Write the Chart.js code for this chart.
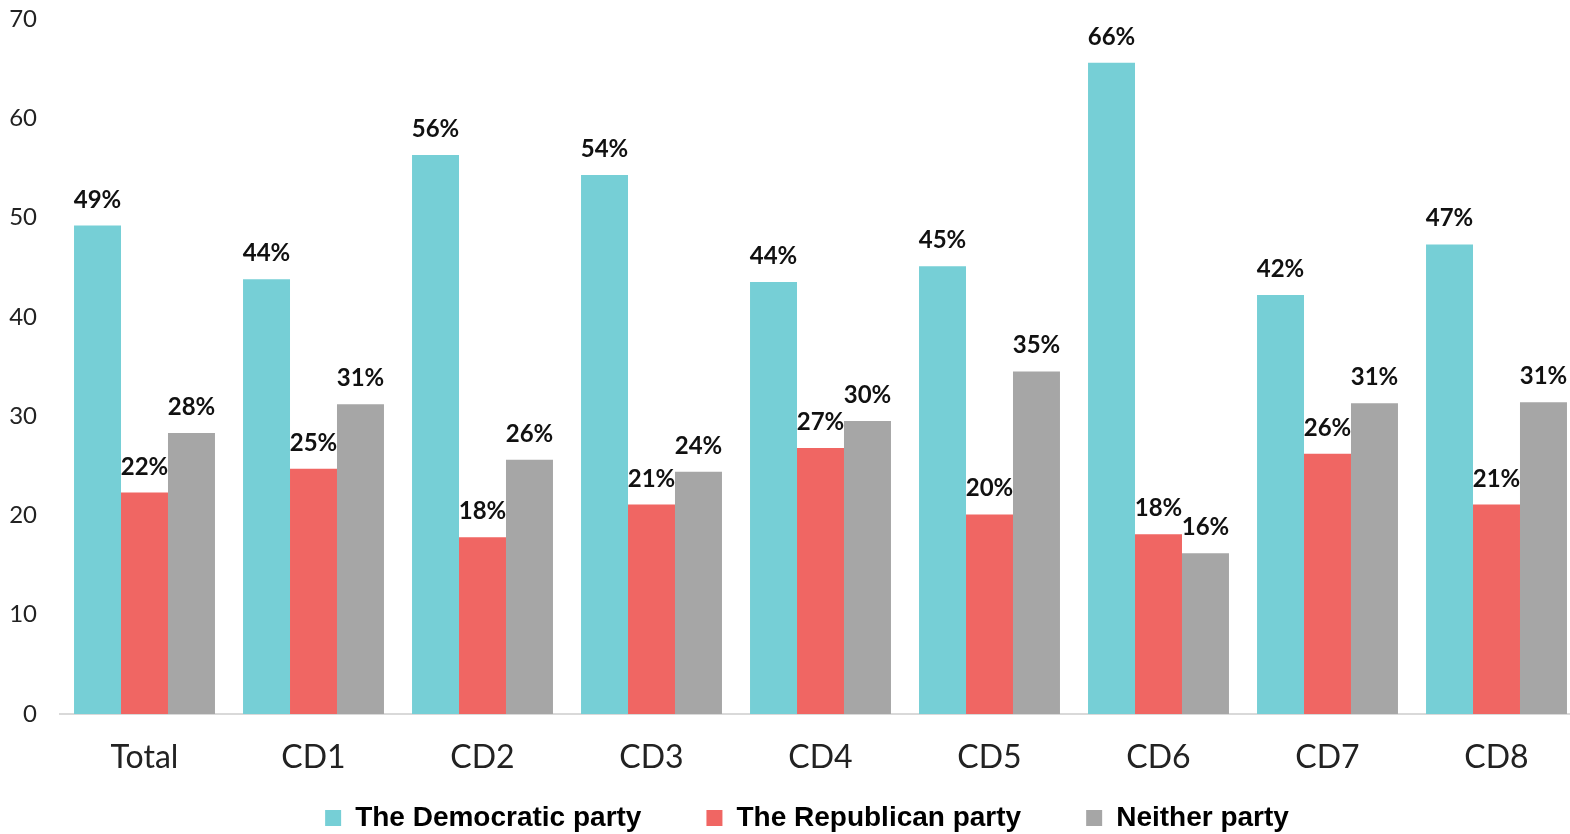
<!DOCTYPE html>
<html>
<head>
<meta charset="utf-8">
<script src="https://cdn.jsdelivr.net/npm/chart.js@4/dist/chart.umd.min.js"></script>
<style>
  html, body { margin: 0; padding: 0; background: #fff; }
  #wrap { width: 1570px; height: 834px; }
</style>
</head>
<body>
<div id="wrap"><canvas id="chart"></canvas></div>
<script>
// data
const categories = ['Total', 'CD1', 'CD2', 'CD3', 'CD4', 'CD5', 'CD6', 'CD7', 'CD8'];
const democratic = [49.2, 43.8, 56.3, 54.3, 43.5, 45.1, 65.6, 42.2, 47.3];
const republican = [22.3, 24.7, 17.8, 21.1, 26.8, 20.1, 18.1, 26.2, 21.1];
const neither = [28.3, 31.2, 25.6, 24.4, 29.5, 34.5, 16.2, 31.3, 31.4];
const yTicks = [0, 10, 20, 30, 40, 50, 60, 70];

// draws the % labels above each bar
const barLabels = {
    id: 'barLabels',
    afterDatasetsDraw(chart) {
        const ctx = chart.ctx;
        ctx.save();
        ctx.font = 'bold 24px Lato';
        ctx.fillStyle = '#111';
        ctx.textAlign = 'center';
        ctx.textBaseline = 'alphabetic';
        chart.data.datasets.forEach((ds, i) => {
            chart.getDatasetMeta(i).data.forEach((bar, j) => {
                ctx.fillText(Math.round(ds.data[j]) + '%', bar.x, bar.y - 18);
            });
        });
        ctx.restore();
    }
};

// the excel plot area runs past the right edge of the canvas; put it where the reference has it
const plotArea = {
    id: 'plotArea',
    afterLayout(chart) {
        const a = chart.chartArea, x = chart.scales.x, y = chart.scales.y;
        a.top = 19; a.right = 1581; a.bottom = 714;
        a.width = a.right - a.left; a.height = a.bottom - a.top;
        x.top = 714; x.right = 1581; x.bottom = chart.height;
        x.width = x.right - x.left; x.height = x.bottom - x.top;
        x.configure();
        y.top = 19; y.bottom = 714; y.height = y.bottom - y.top;
        y.configure();
        chart.legend.left = 44;
    }
};

const ctx = document.getElementById('chart').getContext('2d');
const chart = new Chart(ctx, {
    type: 'bar',
    data: {
        labels: categories,
        datasets: [{
            label: 'The Democratic party',
            data: democratic,
            backgroundColor: '#76cfd6',
        }, {
            label: 'The Republican party',
            data: republican,
            backgroundColor: '#f06663',
        }, {
            label: 'Neither party',
            data: neither,
            backgroundColor: '#a6a6a6',
        }]
    },
    options: {
        responsive: true,
        maintainAspectRatio: false,
        animation: false,
        layout: { padding: { top: 0, right: 0, left: 0, bottom: -8 } },
        datasets: { bar: { categoryPercentage: 0.834, barPercentage: 1 } },
        plugins: {
            tooltip: { enabled: false },
            legend: {
                position: 'bottom',
                labels: {
                    boxWidth: 16,
                    boxHeight: 16,
                    padding: 65,
                    color: '#000',
                    font: { family: '"Liberation Sans", Arial, sans-serif', size: 28, weight: 'bold' }
                }
            }
        },
        scales: {
            x: {
                grid: { display: false, drawTicks: false },
                border: { display: true, color: '#d9d9d9', width: 2 },
                ticks: { color: '#222', padding: 24, font: { family: 'Lato', size: 32 } },
                afterFit: (axis) => { axis.height = 22; }
            },
            y: {
                min: 0,
                max: 70,
                afterBuildTicks: (axis) => { axis.ticks = yTicks.map(v => ({ value: v })); },
                grid: { display: false, drawTicks: false },
                border: { display: false },
                ticks: { color: '#222', padding: 23, font: { family: 'Lato', size: 24 } },
                afterFit: (axis) => { axis.width = 60; }
            }
        }
    },
    plugins: [plotArea, barLabels]
});
</script>
</body>
</html>
